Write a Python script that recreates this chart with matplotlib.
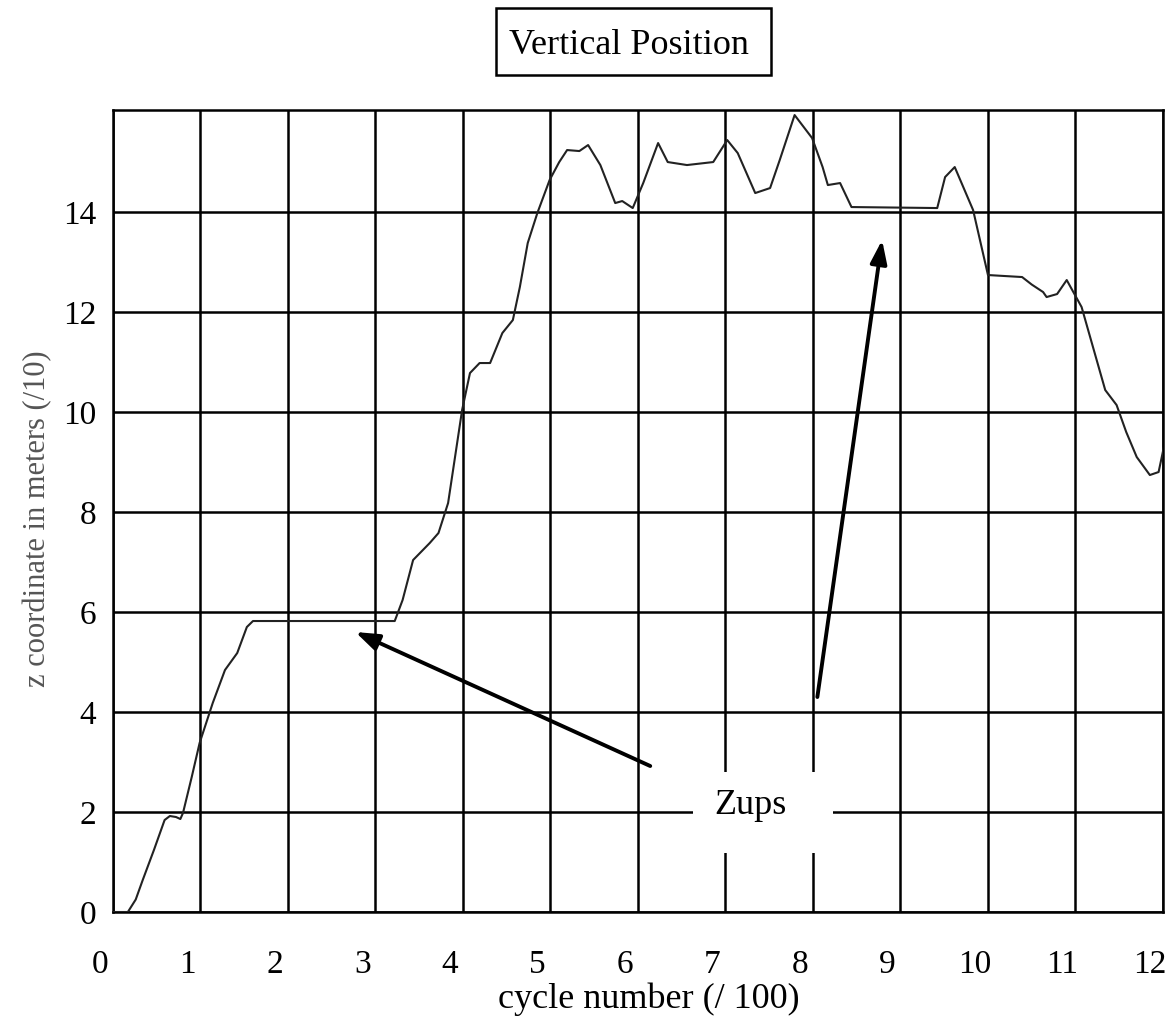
import numpy as np
import matplotlib.pyplot as plt
import matplotlib.transforms as mtransforms
from matplotlib.patches import Rectangle

plt.rcParams['font.family'] = ['Liberation Serif', 'DejaVu Serif']

# data
cycle = [0.0, 0.17, 0.26, 0.34, 0.47, 0.59, 0.65, 0.72, 0.77, 0.80, 0.90, 0.99, 1.14,
         1.28, 1.42, 1.53, 1.60, 3.22, 3.31, 3.43, 3.62, 3.72, 3.83, 3.99, 4.08, 4.19,
         4.31, 4.45, 4.57, 4.65, 4.74, 4.85, 4.99, 5.10, 5.19, 5.33, 5.43, 5.57, 5.74, 5.82,
         5.94, 6.06, 6.23, 6.34, 6.56, 6.86, 7.02, 7.14, 7.34, 7.51, 7.62, 7.79, 7.99,
         8.11, 8.17, 8.31, 8.44, 9.42, 9.51, 9.62, 9.83, 10.0, 10.39, 10.50, 10.63, 10.67,
         10.79, 10.9, 11.07, 11.20, 11.34, 11.47, 11.58, 11.70, 11.85, 11.95, 12.02]
zpos = [0.0, 0.0, 0.25, 0.64, 1.25, 1.84, 1.92, 1.9, 1.86, 1.98, 2.7, 3.38, 4.18,
        4.84, 5.18, 5.7, 5.82, 5.82, 6.24, 7.04, 7.38, 7.58, 8.18, 10.04, 10.78, 10.98,
        10.98, 11.58, 11.84, 12.5, 13.38, 13.98, 14.64, 15.0, 15.24, 15.22, 15.34, 14.94, 14.18, 14.22,
        14.08, 14.58, 15.38, 15.0, 14.94, 15.0, 15.44, 15.18, 14.38, 14.48, 15.04, 15.94, 15.48,
        14.9, 14.54, 14.58, 14.1, 14.08, 14.7, 14.9, 14.04, 12.74, 12.7, 12.55, 12.4, 12.3,
        12.36, 12.64, 12.1, 11.3, 10.44, 10.14, 9.6, 9.1, 8.74, 8.8, 9.38]

xticks = list(range(0, 13))
yticks = [0, 2, 4, 6, 8, 10, 12, 14]

fig = plt.figure(figsize=(11.72, 10.19), dpi=100)
ax = fig.add_axes([0.0964, 0.105, 0.8959, 0.787])

ax.plot(cycle, zpos, color='#222222', lw=1.5, zorder=3, solid_joinstyle='round')

ax.set_xlim(0, 12)
ax.set_ylim(0, 16.04)
ax.set_xticks(xticks)
ax.set_yticks(yticks)
ax.set_xticklabels([str(t) for t in xticks])
ax.set_yticklabels([str(t) for t in yticks])
ax.tick_params(axis='both', length=0, labelsize=24)
ax.tick_params(axis='x', pad=27)
ax.tick_params(axis='y', pad=12)
shift = mtransforms.ScaledTranslation(-13 / 100, 0, fig.dpi_scale_trans)
for lab in ax.get_xticklabels():
    lab.set_transform(lab.get_transform() + shift)

ax.grid(True, color='black', lw=1.8, zorder=1)
for s in ax.spines.values():
    s.set_linewidth(1.8)

ax.set_xlabel('cycle number (/ 100)', fontsize=26)
ax.xaxis.set_label_coords(0.5105, -0.088)
ax.set_ylabel('z coordinate in meters (/10)', fontsize=22, color='#555555')
ax.yaxis.set_label_coords(-0.058, 0.491)

# label box over the grid
ax.add_patch(Rectangle((6.63, 1.18), 1.6, 1.62, facecolor='white', edgecolor='none', zorder=2))
ax.text(7.28, 2.14, 'Zups', fontsize=26, ha='center', va='center', zorder=4)

arrow_style = dict(arrowstyle='-|>,head_length=1.4,head_width=0.5', color='black', lw=2.8,
                   shrinkA=0, shrinkB=0)
ax.annotate('', xy=(2.77, 5.6), xytext=(6.14, 2.92), arrowprops=arrow_style, zorder=5)
ax.annotate('', xy=(8.79, 13.44), xytext=(8.05, 4.3), arrowprops=arrow_style, zorder=5)

# title in a box
fig.patches.append(Rectangle((496 / 1172, 1 - 75 / 1019), 275 / 1172, 67 / 1019,
                             transform=fig.transFigure, fill=False, edgecolor='black', lw=1.8))
fig.text(629 / 1172, 1 - 45 / 1019, 'Vertical Position', fontsize=26, ha='center', va='center')

fig.savefig('out.png', dpi=100)
